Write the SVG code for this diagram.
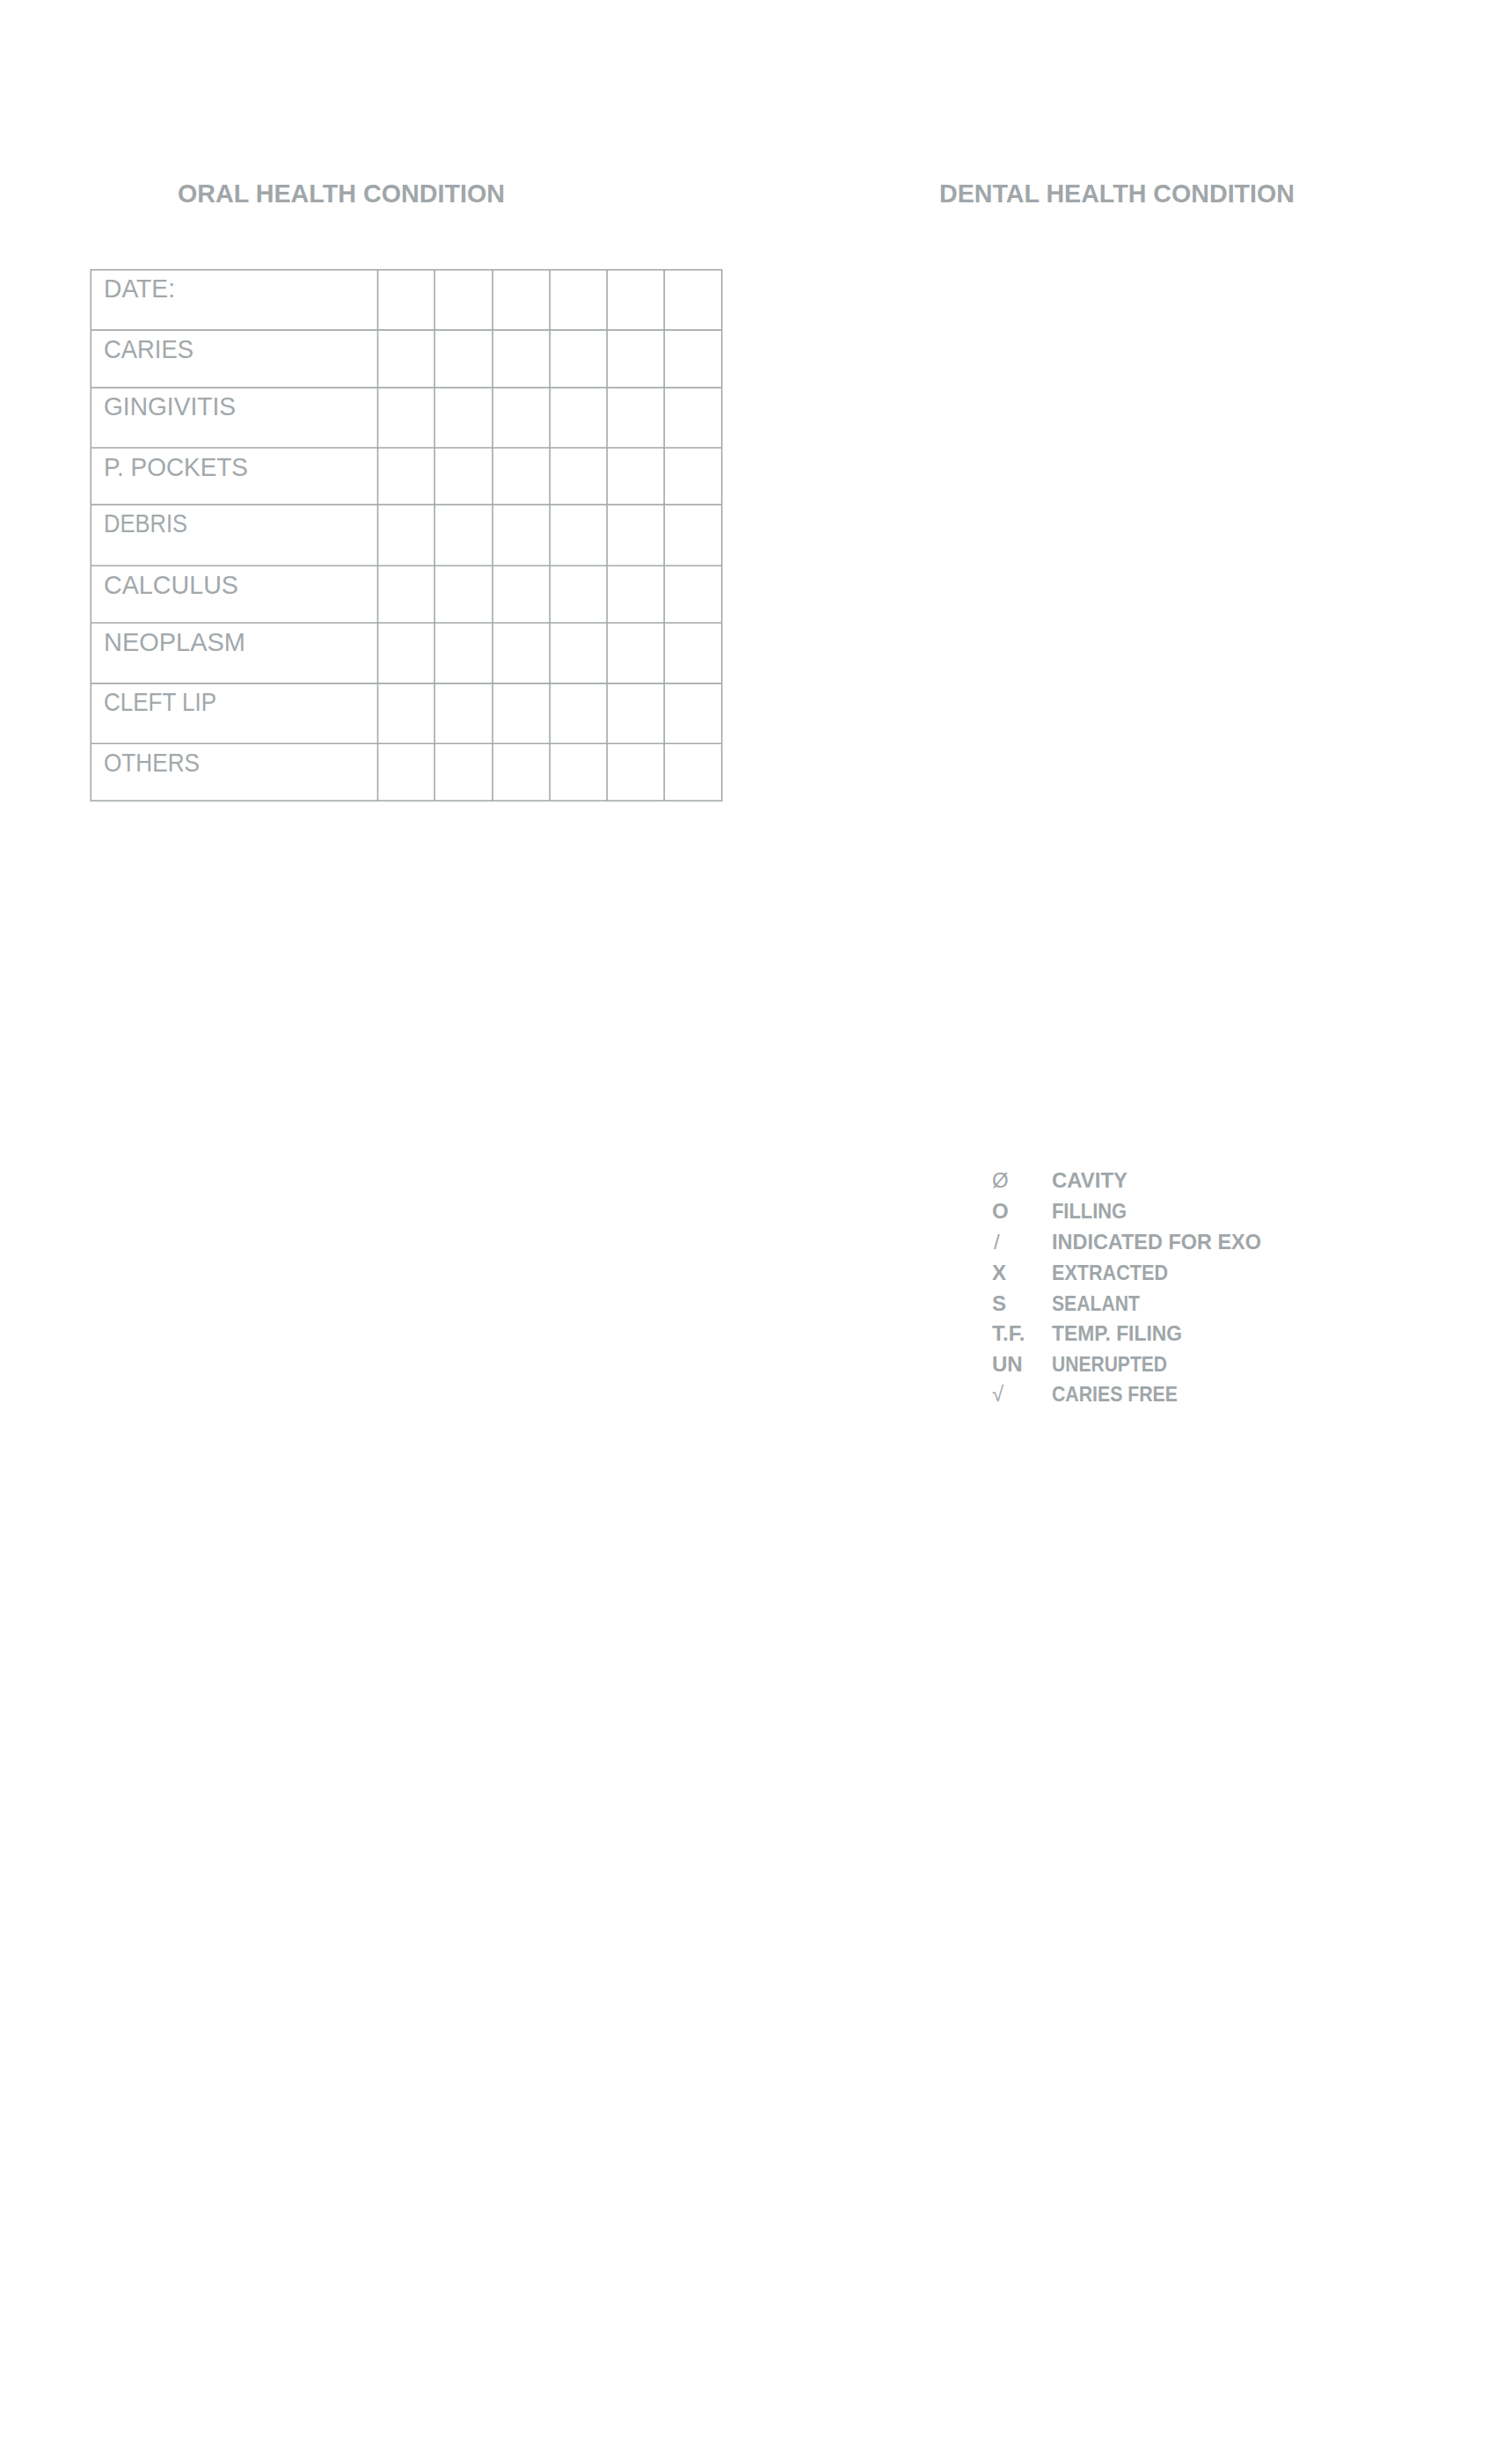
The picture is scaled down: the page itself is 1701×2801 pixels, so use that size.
<svg xmlns="http://www.w3.org/2000/svg" width="1701" height="2801" viewBox="0 0 1701 2801">
<style>
.title{font-family:"Liberation Sans",Arial,sans-serif;font-weight:bold;font-size:30px;fill:#a0a6a9}
.lbl{font-family:"Liberation Sans",Arial,sans-serif;font-size:30px;fill:#a2a8ab}
.leg{font-family:"Liberation Sans",Arial,sans-serif;font-weight:bold;font-size:24px;fill:#a0a6a9}
.sym{font-family:"Liberation Sans",Arial,sans-serif;font-size:24px;fill:#a0a6a9}
.grid{stroke:#a3a9ac;stroke-width:1.6;fill:none}
</style>
<rect x="0" y="0" width="1701" height="2801" fill="#ffffff"/>
<g id="titles">
<text class="title" x="202" y="230" textLength="372" lengthAdjust="spacingAndGlyphs">ORAL HEALTH CONDITION</text>
<text class="title" x="1068" y="230" textLength="404" lengthAdjust="spacingAndGlyphs">DENTAL HEALTH CONDITION</text>
</g>
<g id="oral-table">
<g class="grid">
<rect x="103.3" y="306.7" width="717.4" height="603.6"/>
<path d="M103.3 375.1H820.7M103.3 440.6H820.7M103.3 509H820.7M103.3 573.6H820.7M103.3 643H820.7M103.3 708H820.7M103.3 776.9H820.7M103.3 845.3H820.7"/>
<path d="M429.5 306.7V910.3M494.1 306.7V910.3M560.1 306.7V910.3M625.2 306.7V910.3M690.2 306.7V910.3M755.2 306.7V910.3"/>
</g>
<text class="lbl" x="118" y="338.3" textLength="81" lengthAdjust="spacingAndGlyphs">DATE:</text>
<text class="lbl" x="118" y="406.6" textLength="102" lengthAdjust="spacingAndGlyphs">CARIES</text>
<text class="lbl" x="118" y="472.1" textLength="150" lengthAdjust="spacingAndGlyphs">GINGIVITIS</text>
<text class="lbl" x="118" y="540.5" textLength="164" lengthAdjust="spacingAndGlyphs">P. POCKETS</text>
<text class="lbl" x="118" y="605.1" textLength="95" lengthAdjust="spacingAndGlyphs">DEBRIS</text>
<text class="lbl" x="118" y="674.5" textLength="153" lengthAdjust="spacingAndGlyphs">CALCULUS</text>
<text class="lbl" x="118" y="739.5" textLength="161" lengthAdjust="spacingAndGlyphs">NEOPLASM</text>
<text class="lbl" x="118" y="808.4" textLength="128" lengthAdjust="spacingAndGlyphs">CLEFT LIP</text>
<text class="lbl" x="118" y="876.8" textLength="109" lengthAdjust="spacingAndGlyphs">OTHERS</text>
</g>
<g id="legend">
<text class="sym" x="1128" y="1350">Ø</text>
<text class="leg" x="1196" y="1350" textLength="86" lengthAdjust="spacingAndGlyphs">CAVITY</text>
<text class="leg" x="1128" y="1385">O</text>
<text class="leg" x="1196" y="1385" textLength="85" lengthAdjust="spacingAndGlyphs">FILLING</text>
<text class="sym" x="1130" y="1419.5">/</text>
<text class="leg" x="1196" y="1419.5" textLength="238" lengthAdjust="spacingAndGlyphs">INDICATED FOR EXO</text>
<text class="leg" x="1128" y="1455">X</text>
<text class="leg" x="1196" y="1455" textLength="132" lengthAdjust="spacingAndGlyphs">EXTRACTED</text>
<text class="leg" x="1128" y="1490">S</text>
<text class="leg" x="1196" y="1490" textLength="100" lengthAdjust="spacingAndGlyphs">SEALANT</text>
<text class="leg" x="1128" y="1524">T.F.</text>
<text class="leg" x="1196" y="1524" textLength="148" lengthAdjust="spacingAndGlyphs">TEMP. FILING</text>
<text class="leg" x="1128" y="1558.5">UN</text>
<text class="leg" x="1196" y="1558.5" textLength="131" lengthAdjust="spacingAndGlyphs">UNERUPTED</text>
<text class="sym" x="1128" y="1593">√</text>
<text class="leg" x="1196" y="1593" textLength="143" lengthAdjust="spacingAndGlyphs">CARIES FREE</text>
</g>
</svg>
